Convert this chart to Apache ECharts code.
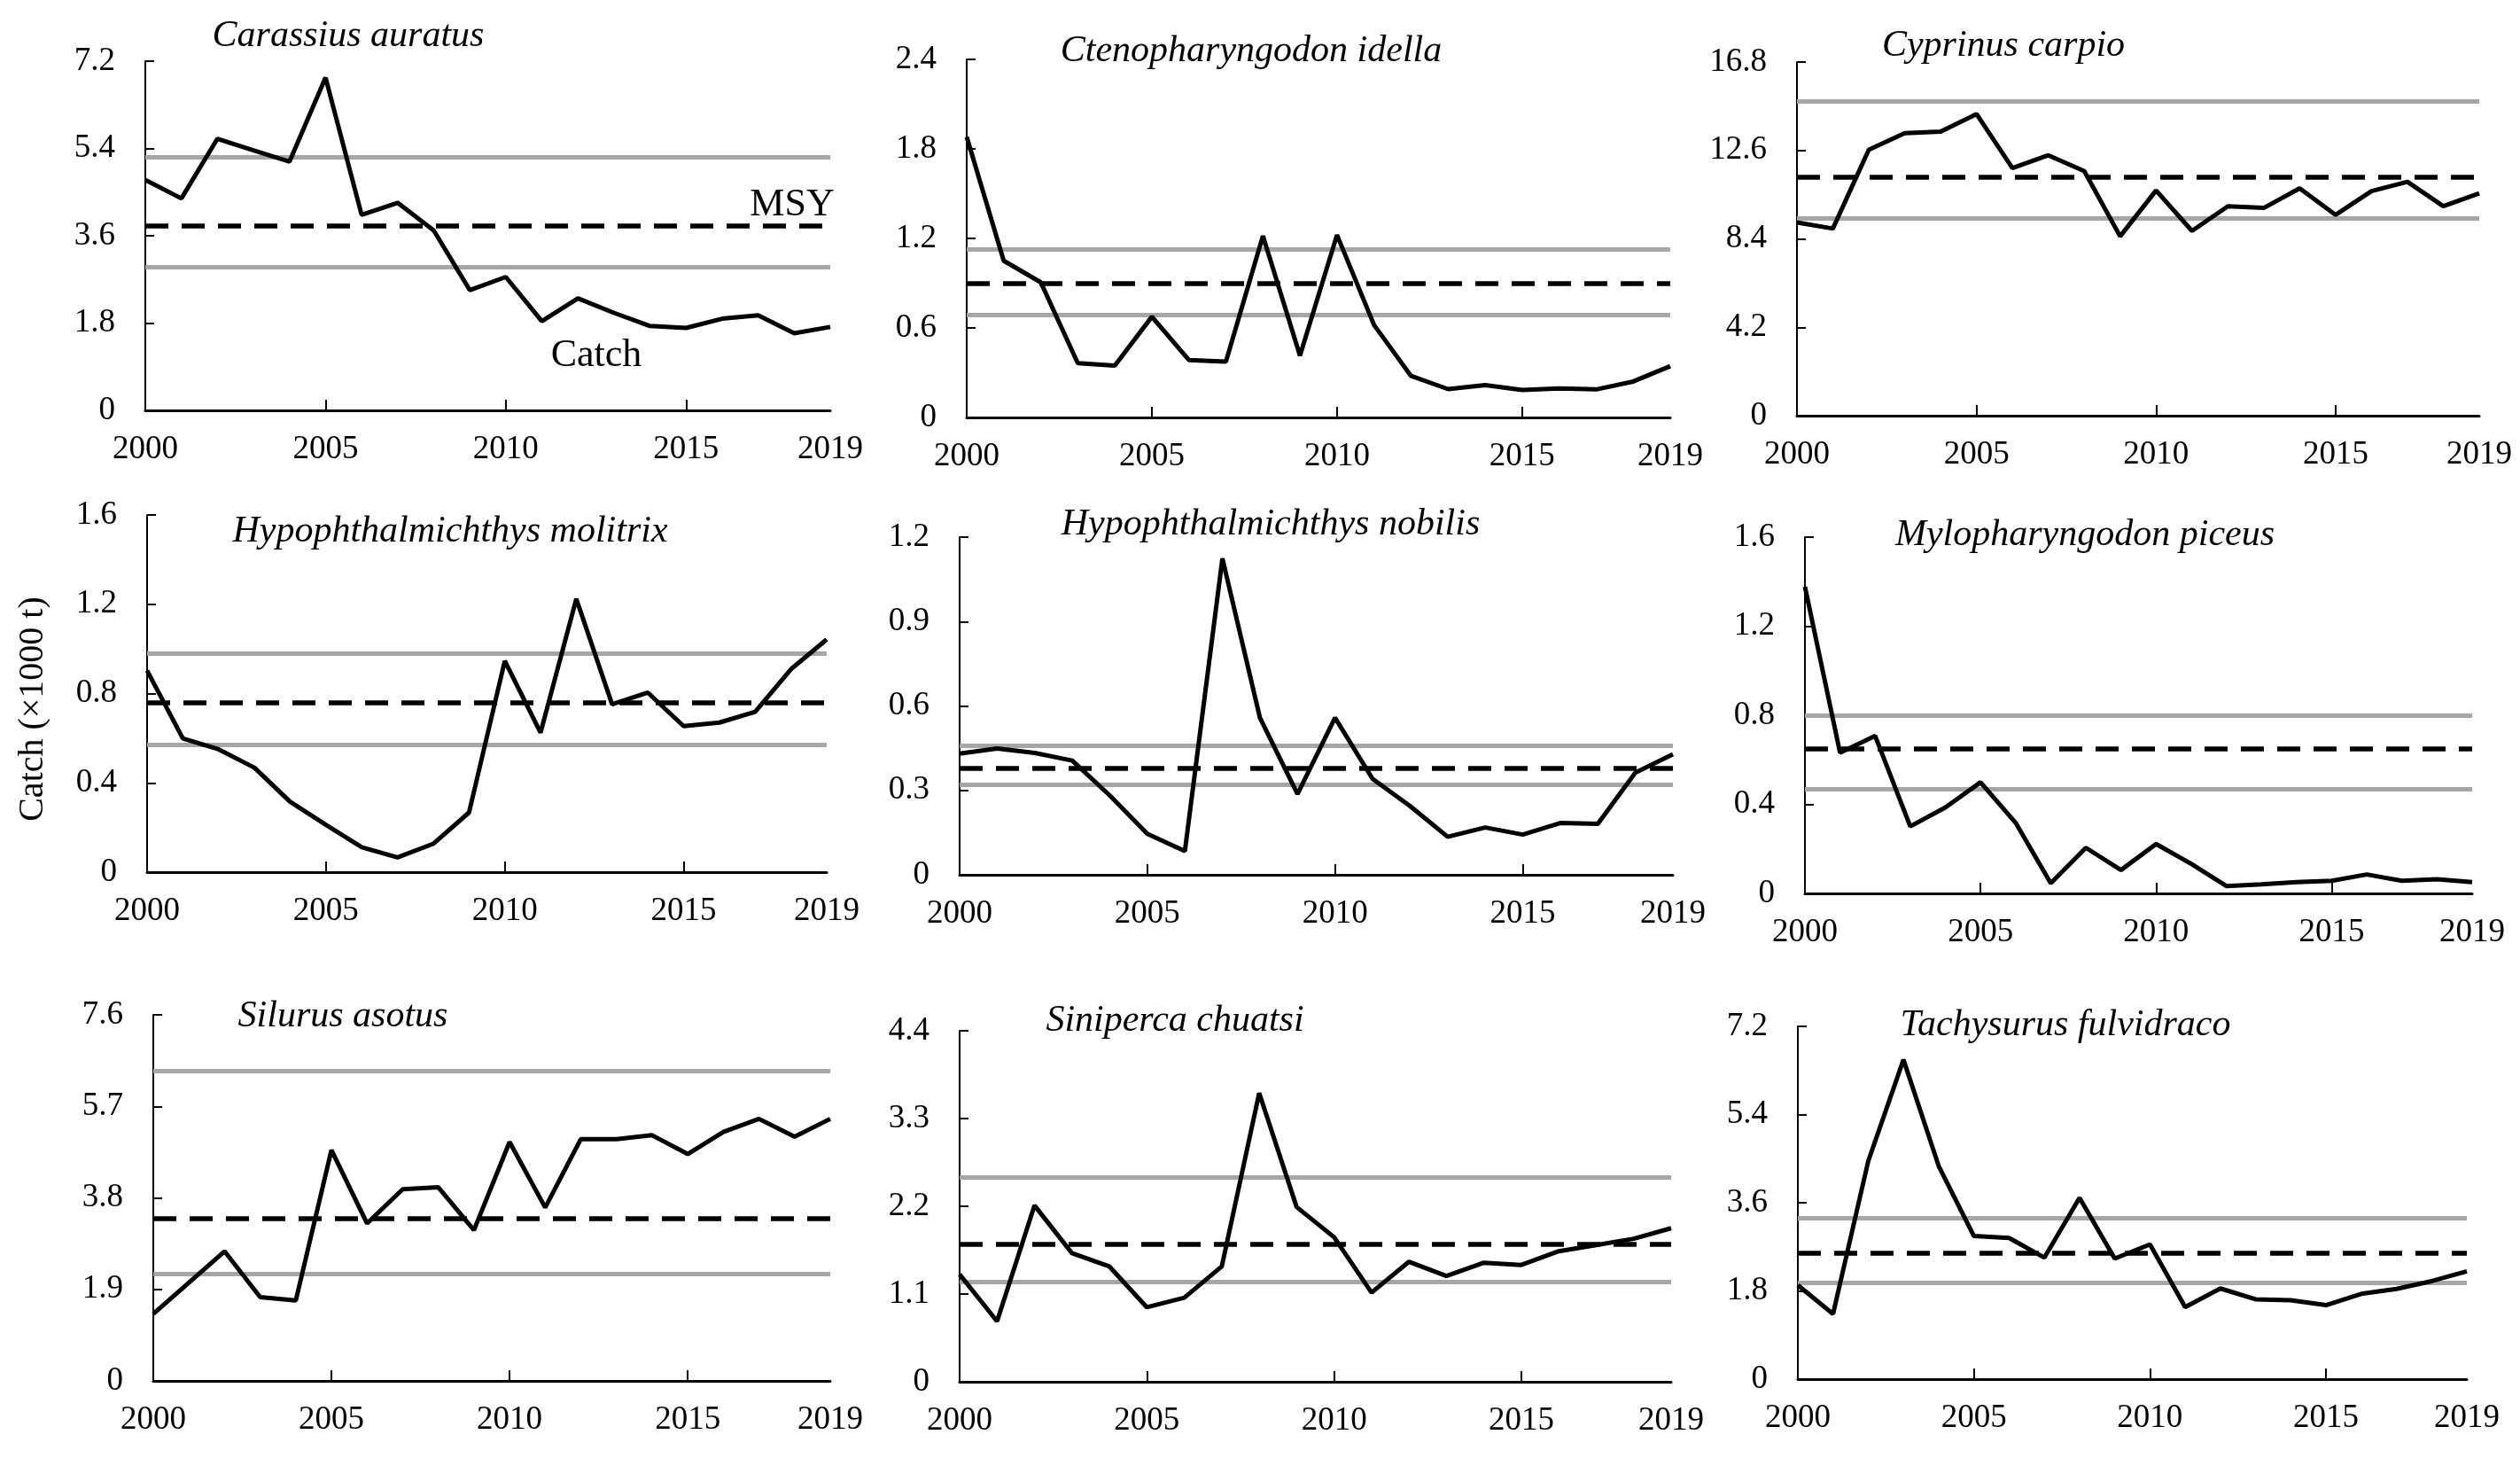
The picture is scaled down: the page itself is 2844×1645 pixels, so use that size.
<!DOCTYPE html>
<html>
<head>
<meta charset="utf-8">
<script src="https://cdn.jsdelivr.net/npm/echarts@6/dist/echarts.min.js"></script>
<style>
html,body{margin:0;padding:0;background:#fff;}
#chart{width:2844px;height:1645px;}
</style>
</head>
<body>
<div id="chart"></div>
<script>
// ---------------- data ----------------
const years = ['2000','2001','2002','2003','2004','2005','2006','2007','2008','2009',
               '2010','2011','2012','2013','2014','2015','2016','2017','2018','2019'];

const speciesNames = ['Carassius auratus','Ctenopharyngodon idella','Cyprinus carpio',
  'Hypophthalmichthys molitrix','Hypophthalmichthys nobilis','Mylopharyngodon piceus',
  'Silurus asotus','Siniperca chuatsi','Tachysurus fulvidraco'];

const catchCarassius   = [4.75,4.37,5.60,5.36,5.13,6.86,4.03,4.28,3.71,2.48,2.75,1.84,2.31,2.01,1.74,1.70,1.89,1.96,1.59,1.72];
const catchCteno       = [1.88,1.05,0.906,0.364,0.348,0.675,0.385,0.374,1.217,0.415,1.223,0.62,0.278,0.19,0.217,0.184,0.194,0.188,0.241,0.344];
const catchCyprinus    = [9.18,8.89,12.63,13.42,13.49,14.33,11.76,12.37,11.62,8.52,10.70,8.78,9.95,9.87,10.80,9.54,10.67,11.11,9.95,10.56];
const catchMolitrix    = [0.903,0.599,0.55,0.468,0.315,0.212,0.112,0.066,0.127,0.267,0.946,0.625,1.224,0.752,0.804,0.654,0.67,0.718,0.909,1.042];
const catchNobilis     = [0.431,0.449,0.433,0.406,0.282,0.146,0.084,1.124,0.558,0.287,0.558,0.341,0.244,0.135,0.168,0.143,0.184,0.181,0.363,0.428];
const catchMylo        = [1.377,0.632,0.707,0.301,0.386,0.499,0.317,0.046,0.205,0.105,0.222,0.133,0.033,0.041,0.051,0.057,0.085,0.057,0.064,0.051];
const catchSilurus     = [1.39,2.04,2.69,1.74,1.67,4.79,3.27,3.98,4.02,3.13,4.96,3.60,5.02,5.02,5.10,4.71,5.17,5.44,5.07,5.44];
const catchSiniperca   = [1.346,0.759,2.21,1.613,1.445,0.934,1.054,1.445,3.62,2.19,1.813,1.118,1.505,1.326,1.493,1.465,1.637,1.713,1.793,1.925];
const catchTachysurus  = [1.917,1.33,4.45,6.52,4.35,2.92,2.88,2.48,3.70,2.46,2.75,1.47,1.85,1.63,1.61,1.51,1.74,1.84,2.00,2.20];

const msyValues   = [3.81, 0.90, 11.33, 0.755, 0.383, 0.654, 3.38, 1.733, 2.58];
const upperValues = [5.23, 1.13, 14.94, 0.982, 0.458, 0.804, 6.43, 2.563, 3.29];
const lowerValues = [2.96, 0.69, 9.38, 0.567, 0.317, 0.472, 2.22, 1.254, 1.96];

const yMaxValues  = [7.2, 2.4, 16.8, 1.6, 1.2, 1.6, 7.6, 4.4, 7.2];
const yStepValues = [1.8, 0.6, 4.2, 0.4, 0.3, 0.4, 1.9, 1.1, 1.8];

const yAxisTitle = 'Catch (×1000 t)';
const msyLabel = 'MSY';
const catchLabel = 'Catch';

const catchSeries = [catchCarassius, catchCteno, catchCyprinus, catchMolitrix, catchNobilis,
                     catchMylo, catchSilurus, catchSiniperca, catchTachysurus];

// ---------------- layout ----------------
// [left, top, right, bottom] of each plot area in px
const boxes = [
  [164, 69, 937, 463], [1091, 67, 1885, 471], [2028, 70, 2798, 469],
  [166, 581, 933, 984], [1083, 606, 1888, 987], [2037, 606, 2790, 1008],
  [173, 1145, 937, 1558], [1083, 1163, 1886, 1559], [2029, 1158, 2784, 1556]
];
const titlePos = [[393,41],[1412,58],[2261,52],[508,600],[1434,592],[2353,604],[387,1147],[1326,1152],[2331,1157]];

const FONT = '"Liberation Serif", "Times New Roman", serif';
const grids = [], xAxes = [], yAxes = [], series = [], graphics = [];

boxes.forEach((b, i) => {
  grids.push({left: b[0], top: b[1], width: b[2] - b[0], height: b[3] - b[1], containLabel: false});
  xAxes.push({
    type: 'category', gridIndex: i, data: years, boundaryGap: false,
    axisLine: {show: true, lineStyle: {color: '#000', width: 3}},
    axisTick: {show: true, inside: true, length: 12, lineStyle: {color: '#000', width: 2},
               interval: (idx) => idx % 5 === 0 && idx > 0 && idx < 19},
    axisLabel: {interval: (idx) => idx % 5 === 0 || idx === 19, color: '#000',
                fontFamily: FONT, fontSize: 37, margin: 26},
    splitLine: {show: false}
  });
  yAxes.push({
    type: 'value', gridIndex: i, min: 0, max: yMaxValues[i], interval: yStepValues[i],
    axisLine: {show: true, lineStyle: {color: '#000', width: 2}},
    axisTick: {show: true, inside: true, length: 10, lineStyle: {color: '#000', width: 2}},
    axisLabel: {color: '#000', fontFamily: FONT, fontSize: 37, margin: 34,
                formatter: (v) => (Math.abs(v) < 1e-9 ? '0' : v.toFixed(1))},
    splitLine: {show: false}
  });
  series.push({
    type: 'line', xAxisIndex: i, yAxisIndex: i, data: catchSeries[i],
    symbol: 'none', lineStyle: {color: '#000', width: 5}, z: 3,
    markLine: {
      silent: true, symbol: ['none', 'none'], label: {show: false}, z: 2,
      data: [
        {yAxis: upperValues[i], lineStyle: {color: '#a6a6a6', width: 5, type: 'solid'}},
        {yAxis: lowerValues[i], lineStyle: {color: '#a6a6a6', width: 5, type: 'solid'}},
        {yAxis: msyValues[i], lineStyle: {color: '#000', width: 5.5, type: [26, 15]}}
      ]
    }
  });
  graphics.push({
    type: 'text', x: titlePos[i][0], y: titlePos[i][1],
    style: {text: speciesNames[i], fill: '#000', font: 'italic 42px ' + FONT,
            textAlign: 'center', textVerticalAlign: 'middle'}
  });
});

graphics.push({type: 'text', x: 894, y: 231,
  style: {text: msyLabel, fill: '#000', font: '44px ' + FONT, textAlign: 'center', textVerticalAlign: 'middle'}});
graphics.push({type: 'text', x: 673, y: 401,
  style: {text: catchLabel, fill: '#000', font: '44px ' + FONT, textAlign: 'center', textVerticalAlign: 'middle'}});
graphics.push({type: 'text', x: 37, y: 800, rotation: Math.PI / 2,
  style: {text: yAxisTitle, fill: '#000', font: '40px ' + FONT, textAlign: 'center', textVerticalAlign: 'middle'}});

const chart = echarts.init(document.getElementById('chart'), null, {renderer: 'canvas'});
chart.setOption({
  backgroundColor: '#fff',
  animation: false,
  grid: grids, xAxis: xAxes, yAxis: yAxes, series: series,
  graphic: graphics
});
</script>
</body>
</html>
